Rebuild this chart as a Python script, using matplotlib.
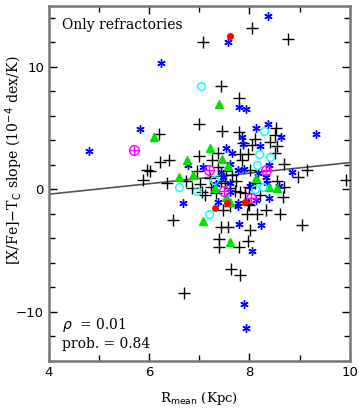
import matplotlib
matplotlib.use('Agg')
import matplotlib.pyplot as plt
import numpy as np

# black crosses
plus_x = [6.19, 6.21, 6.39, 5.95, 6.01, 7.00, 8.06, 7.08, 8.77, 7.44, 7.80, 7.46, 8.53, 7.80, 8.51,
          8.12, 7.88, 8.06, 8.41, 8.55, 7.38, 7.82, 7.98, 8.51, 7.00, 7.86, 8.69, 9.15, 7.38, 6.96,
          7.66, 8.02, 8.97, 9.92, 6.74, 7.02, 6.86, 7.12, 7.06, 7.24, 7.44, 7.52, 7.72, 7.82, 7.62,
          7.48, 7.98, 8.67, 8.33, 8.61, 8.16, 7.96, 9.05, 7.44, 7.58, 8.02, 7.40, 7.98, 7.40, 7.80,
          7.64, 7.82, 6.70, 5.87, 6.35, 6.47, 8.55, 8.69, 7.92, 8.00, 8.00, 7.22, 7.62, 7.74, 8.12,
          7.34, 8.21, 7.54, 7.26]
plus_y = [4.5, 2.2, 2.4, 1.55, 1.5, 5.3, 13.2, 12.0, 12.3, 8.4, 7.5, 4.8, 5.0, 4.7, 4.4,
          4.1, 3.8, 3.6, 3.9, 3.5, 3.0, 2.9, 2.9, 3.0, 2.7, 2.4, 2.1, 1.6, 1.8, 1.5,
          1.15, 1.6, 1.0, 0.8, 0.7, 0.4, 0.1, -0.5, -0.25, 0.15, 0.7, 0.5, -0.1, -0.25, -1.4,
          -1.7, -1.2, -0.6, -1.7, -2.0, -2.05, -2.05, -2.9, -3.1, -3.1, -3.35, -4.1, -4.2, -4.7, -4.75,
          -6.55, -7.0, -8.45, 0.8, 0.5, -2.5, 0.7, 0.15, -0.3, 0.15, -1.3, 0.9, 0.1, 0.7, 0.5,
          -0.3, -0.5, 1.5, 2.4]

# blue asterisks
star_x = [6.23, 5.81, 4.80, 6.78, 8.37, 7.58, 7.80, 7.94, 8.14, 8.37, 8.63, 9.33, 7.86, 7.88, 8.21,
          7.54, 7.66, 7.62, 8.39, 7.08, 8.85, 7.90, 7.78, 8.33, 8.17, 7.44, 7.34, 7.48, 7.62, 7.38,
          7.78, 7.78, 8.14, 8.39, 7.80, 8.23, 8.06, 7.90, 7.94, 6.68, 8.35, 8.02, 8.59, 7.62]
star_y = [10.3, 4.9, 3.1, 2.0, 14.2, 12.0, 6.7, 6.6, 5.0, 5.3, 4.3, 4.5, 4.3, 3.7, 3.5,
          3.4, 3.0, 2.1, 2.0, 1.8, 1.4, 1.7, 1.6, 1.0, 1.3, 1.4, 0.4, 1.0, -0.25, -1.05,
          -1.15, -1.4, -0.9, -0.7, -2.8, -2.95, -5.0, -9.35, -11.3, -1.15, 0.5, 0.3, 0.25, 0.5]

# green triangles
tri_x = [6.09, 6.76, 6.60, 6.88, 7.40, 7.22, 7.46, 7.58, 8.14, 7.32, 7.54, 7.62, 7.08, 7.62, 8.39, 8.55]
tri_y = [4.3, 2.4, 1.0, 1.2, 7.0, 3.4, 2.5, 1.9, 0.9, 0.1, -0.65, -1.05, -2.6, -4.3, 0.15, 0.1]

# cyan open circles
circ_x = [7.04, 8.29, 8.19, 8.41, 8.16, 6.60, 6.96, 7.30, 7.20, 8.27, 8.12]
circ_y = [8.4, 4.8, 2.9, 2.6, 2.0, 0.15, -0.1, 0.8, -2.0, 0.15, 0.0]

# magenta circled crosses
oplus_x = [5.69, 7.20, 8.33, 7.50, 8.04]
oplus_y = [3.2, 1.6, 1.6, -0.15, -0.7]

# red dots
dot_x = [7.62, 7.56, 7.32, 7.92]
dot_y = [12.5, -1.15, -1.5, -1.05]

fit_slope = 0.43
fit_icpt = -2.12

fig = plt.figure(figsize=(3.59, 4.08), dpi=100)
ax = fig.add_axes([0.136, 0.116, 0.838, 0.870])

ax.plot(plus_x, plus_y, '+', color='black', ms=8.5, mew=1.0, zorder=3)
ax.plot(star_x, star_y, ls='none', marker=(6, 2, 0), color='blue', ms=6, mew=1.0, zorder=3)
ax.plot(tri_x, tri_y, '^', color='#00e000', ms=5.5, mec='#00e000', zorder=3)
ax.plot(circ_x, circ_y, 'o', mfc='none', mec='cyan', ms=5.5, mew=1.0, zorder=3)
ax.plot(oplus_x, oplus_y, 'o', mfc='none', mec='magenta', ms=7, mew=1.0, zorder=3)
ax.plot(oplus_x, oplus_y, '+', color='magenta', ms=7, mew=1.0, zorder=3)
ax.plot(dot_x, dot_y, 'o', color='red', ms=4, zorder=3)

xl = np.array([4, 10])
ax.plot(xl, fit_slope * xl + fit_icpt, color='#555555', lw=1.2, zorder=2)

ax.set_xlim(4, 10)
ax.set_ylim(-14, 15)
ax.set_xticks([4, 6, 8, 10])
ax.set_xticks([5, 7, 9], minor=True)
ax.set_yticks([-10, 0, 10])
ax.set_yticks(np.arange(-14, 16, 2), minor=True)
ax.tick_params(which='both', direction='in', top=True, right=True, labelsize=9.5)
ax.tick_params(which='major', length=6, width=1)
ax.tick_params(which='minor', length=4, width=1)
for s in ax.spines.values():
    s.set_color('#777777')
    s.set_linewidth(1.8)

ax.set_xlabel(r'R$_{\rm mean}$ (Kpc)', family='DejaVu Serif', fontsize=9.5)
ax.xaxis.set_label_coords(0.5, -0.082)
ax.set_ylabel(r'[X/Fe]$-$T$_{\rm C}$ slope (10$^{-4}$ dex/K)', family='DejaVu Serif', fontsize=10.2)
ax.yaxis.set_label_coords(-0.08, 0.566)

ax.text(0.045, 0.935, 'Only refractories', transform=ax.transAxes, family='DejaVu Serif', fontsize=10)
ax.text(0.045, 0.09, r'$\rho$  = 0.01', transform=ax.transAxes, family='DejaVu Serif', fontsize=10)
ax.text(0.045, 0.035, 'prob. = 0.84', transform=ax.transAxes, family='DejaVu Serif', fontsize=10)

fig.savefig('out.png', dpi=100)
